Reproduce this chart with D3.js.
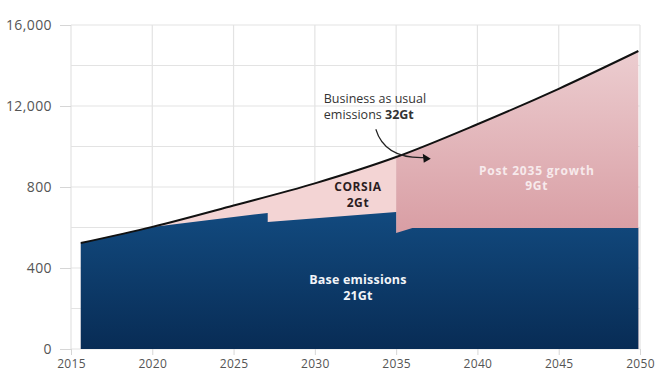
<!DOCTYPE html>
<html>
<head>
<meta charset="utf-8">
<script src="https://cdn.jsdelivr.net/npm/d3@7"></script>
<style>
  body { margin: 0; background: #fff; }
  svg { display: block; font-family: 'Open Sans', sans-serif; }
</style>
</head>
<body>
<svg width="658" height="377"></svg>
<script>
// business as usual emissions (black line)
const bauYears = [2015.6, 2020, 2025, 2030, 2035, 2040, 2045, 2049.9];
const bauValues = [5230, 6030, 7086, 8180, 9480, 11100, 12850, 14715];

// base emissions (dark blue area), steps at 2027 and 2035
const baseYears = [2015.6, 2020, 2027.1, 2027.1, 2035, 2035, 2036, 2049.9];
const baseValues = [5230, 6030, 6720, 6270, 6770, 5730, 5975, 5975];

const splitYear = 2035;

const xTicks = [2015, 2020, 2025, 2030, 2035, 2040, 2045, 2050];
const yTicks = [0, 4000, 8000, 12000, 16000];
const yTickLabels = ['0', '400', '800', '12,000', '16,000'];
const yGrid = d3.range(0, 16001, 2000);

const width = 658, height = 377;
const margin = { top: 25, right: 18, bottom: 28, left: 71 };

const x = d3.scaleLinear([2015, 2050], [margin.left, width - margin.right]);
const y = d3.scaleLinear([0, 16000], [height - margin.bottom, margin.top]);

const bau = bauYears.map((d, i) => ({ year: d, value: bauValues[i] }));
const base = baseYears.map((d, i) => ({ year: d, value: baseValues[i] }));

const svg = d3.select('svg');
const defs = svg.append('defs');

// gradients
const postGrad = defs.append('linearGradient')
  .attr('id', 'post-grad')
  .attr('gradientUnits', 'userSpaceOnUse')
  .attr('x1', 0).attr('x2', 0)
  .attr('y1', y(14700)).attr('y2', y(5975));
postGrad.append('stop').attr('offset', 0).attr('stop-color', '#eccdd0');
postGrad.append('stop').attr('offset', 1).attr('stop-color', '#d99fa5');

const baseGrad = defs.append('linearGradient')
  .attr('id', 'base-grad')
  .attr('gradientUnits', 'userSpaceOnUse')
  .attr('x1', 0).attr('x2', 0)
  .attr('y1', y(6800)).attr('y2', y(0));
baseGrad.append('stop').attr('offset', 0).attr('stop-color', '#124a7f');
baseGrad.append('stop').attr('offset', 1).attr('stop-color', '#082c55');

defs.append('clipPath').attr('id', 'clip-before')
  .append('rect')
  .attr('x', x(2015)).attr('y', 0)
  .attr('width', x(splitYear) - x(2015)).attr('height', height);
defs.append('clipPath').attr('id', 'clip-after')
  .append('rect')
  .attr('x', x(splitYear)).attr('y', 0)
  .attr('width', x(2050) - x(splitYear)).attr('height', height);

// grid
svg.append('g')
  .selectAll('line')
  .data(yGrid)
  .join('line')
    .attr('x1', x(2015))
    .attr('x2', x(2050))
    .attr('y1', (d) => y(d))
    .attr('y2', (d) => y(d))
    .attr('stroke', '#e3e3e3')
    .attr('stroke-width', 1.2);

svg.append('g')
  .selectAll('line')
  .data(xTicks)
  .join('line')
    .attr('x1', (d) => x(d))
    .attr('x2', (d) => x(d))
    .attr('y1', y(16000))
    .attr('y2', y(0))
    .attr('stroke', '#e3e3e3')
    .attr('stroke-width', 1.2);

// areas
const bauArea = d3.area()
  .x((d) => x(d.year))
  .y0(y(0))
  .y1((d) => y(d.value))
  .curve(d3.curveMonotoneX);

svg.append('path')
  .datum(bau)
  .attr('d', bauArea)
  .attr('fill', '#f3d4d4')
  .attr('clip-path', 'url(#clip-before)');

svg.append('path')
  .datum(bau)
  .attr('d', bauArea)
  .attr('fill', 'url(#post-grad)')
  .attr('clip-path', 'url(#clip-after)');

const baseArea = d3.area()
  .x((d) => x(d.year))
  .y0(y(0))
  .y1((d) => y(d.value));

svg.append('path')
  .datum(base)
  .attr('d', baseArea)
  .attr('fill', 'url(#base-grad)');

const bauLine = d3.line()
  .x((d) => x(d.year))
  .y((d) => y(d.value))
  .curve(d3.curveMonotoneX);

svg.append('path')
  .datum(bau)
  .attr('d', bauLine)
  .attr('fill', 'none')
  .attr('stroke', '#111')
  .attr('stroke-width', 2);

// axes
const yAxis = d3.axisLeft(y)
  .tickValues(yTicks)
  .tickFormat((d, i) => yTickLabels[i])
  .tickSize(11)
  .tickPadding(8);

svg.append('g')
  .attr('transform', `translate(${margin.left}, 0)`)
  .call(yAxis)
  .call((g) => g.select('.domain').remove())
  .call((g) => g.selectAll('line').attr('stroke', '#d6d6d6'))
  .selectAll('text')
    .style('font-family', "'Open Sans', sans-serif")
    .style('font-size', '14px')
    .style('letter-spacing', '0.4px')
    .attr('fill', '#555');

const xAxis = d3.axisBottom(x)
  .tickValues(xTicks)
  .tickFormat(d3.format('d'))
  .tickSize(6)
  .tickPadding(4);

svg.append('g')
  .attr('transform', `translate(0, ${y(0)})`)
  .call(xAxis)
  .call((g) => g.select('.domain').remove())
  .call((g) => g.selectAll('line').attr('stroke', '#d6d6d6'))
  .selectAll('text')
    .style('font-family', "'Open Sans', sans-serif")
    .style('font-size', '12px')
    .style('letter-spacing', '0.3px')
    .attr('fill', '#555');

// labels
const labelFont = "'Open Sans', sans-serif";

function twoLine(xv, yv, lines, color, size, spacing) {
  const t = svg.append('text')
    .attr('x', x(xv))
    .attr('y', y(yv))
    .attr('text-anchor', 'middle')
    .attr('fill', color)
    .style('font-family', labelFont)
    .style('font-size', size + 'px')
    .style('font-weight', 'bold')
    .style('letter-spacing', spacing + 'px');
  lines.forEach((l, i) => {
    t.append('tspan')
      .attr('x', x(xv))
      .attr('dy', i === 0 ? 0 : '1.3em')
      .text(l);
  });
}

twoLine(2032.65, 7800, ['CORSIA', '2Gt'], '#2b1d1f', 12, 0.6);
twoLine(2043.65, 8600, ['Post 2035 growth', '9Gt'], '#f7eaec', 12, 0.8);
twoLine(2032.65, 3220, ['Base emissions', '21Gt'], '#f2f4f8', 12.5, 0.2);

// business as usual annotation
const note = svg.append('text')
  .attr('x', x(2030.55))
  .attr('y', y(12150))
  .attr('fill', '#333')
  .style('font-family', labelFont)
  .style('font-size', '12.5px');
note.append('tspan').text('Business as usual');
note.append('tspan')
  .attr('x', x(2030.55))
  .attr('dy', '1.3em')
  .text('emissions ');
note.append('tspan')
  .style('font-weight', 'bold')
  .text('32Gt');

const arrowStart = [2033.75, 10850];
const arrowCtrl = [2034.3, 9400];
const arrowEnd = [2036.7, 9450];

const arrowPath = d3.path();
arrowPath.moveTo(x(arrowStart[0]), y(arrowStart[1]));
arrowPath.quadraticCurveTo(x(arrowCtrl[0]), y(arrowCtrl[1]), x(arrowEnd[0]), y(arrowEnd[1]));

svg.append('path')
  .attr('d', arrowPath.toString())
  .attr('fill', 'none')
  .attr('stroke', '#222')
  .attr('stroke-width', 1.2);

const ax = x(arrowEnd[0]), ay = y(arrowEnd[1]);
svg.append('path')
  .attr('d', `M${ax + 7},${ay + 1} L${ax - 1},${ay - 4} L${ax},${ay + 5} Z`)
  .attr('fill', '#111');
</script>
</body>
</html>
